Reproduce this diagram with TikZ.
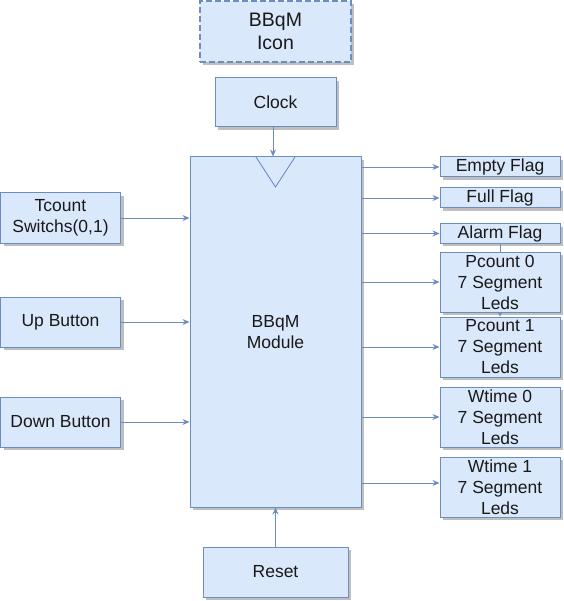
\documentclass[tikz,border=0pt]{standalone}
\usepackage{fontspec}
\setmainfont{Liberation Sans}
\usetikzlibrary{arrows.meta,shadows}
\definecolor{boxfill}{HTML}{DAE8FC}
\definecolor{boxline}{HTML}{6C8EBF}
\begin{document}
\begin{tikzpicture}[x=1pt,y=-1pt,
  box/.style={draw=boxline,fill=boxfill,line width=1pt,inner sep=0pt,align=center,
    font=\fontsize{17.5}{21}\selectfont,text=black!90,
    drop shadow={shadow xshift=3pt,shadow yshift=-3pt,fill=black!25,opacity=1}},
  arr/.style={draw=boxline,line width=0.9pt,-{Stealth[length=7pt,width=6pt]}},
  plain/.style={draw=boxline,line width=0.9pt}]
\useasboundingbox (0,0) rectangle (563,601);
\node[box,minimum width=151pt,minimum height=61pt,dash pattern=on 6pt off 3pt,line width=1.5pt,font=\fontsize{19.5}{23}\selectfont] (icon) at (275.5,31.5) {BBqM\\Icon};
\node[box,minimum width=121pt,minimum height=49pt] (clock) at (275.5,102.5) {Clock};
\node[box,minimum width=171pt,minimum height=350pt] (module) at (275.5,332) {BBqM\\Module};
\node[box,minimum width=120pt,minimum height=20pt] (empty) at (500,167) {Empty Flag};
\node[box,minimum width=120pt,minimum height=20pt] (full) at (500,198) {Full Flag};
\node[box,minimum width=120pt,minimum height=19pt] (alarm) at (500,233.5) {Alarm Flag};
\node[box,minimum width=120pt,minimum height=60pt] (pc0) at (500,282) {Pcount 0\\7 Segment\\Leds};
\node[box,minimum width=120pt,minimum height=60pt] (pc1) at (500,347) {Pcount 1\\7 Segment\\Leds};
\node[box,minimum width=120pt,minimum height=60pt] (wt0) at (500,417) {Wtime 0\\7 Segment\\Leds};
\node[box,minimum width=120pt,minimum height=60pt] (wt1) at (500,487) {Wtime 1\\7 Segment\\Leds};
\node[box,minimum width=120pt,minimum height=50pt] (tcount) at (60.5,218) {Tcount\\Switchs(0,1)};
\node[box,minimum width=120pt,minimum height=50pt] (up) at (60.5,322) {Up Button};
\node[box,minimum width=120pt,minimum height=50pt] (down) at (60.5,422) {Down Button};
\node[box,minimum width=145pt,minimum height=50pt] (reset) at (275.5,572) {Reset};
\coordinate (wt1in) at ([yshift=4pt]wt1.west);
\coordinate (clkout) at ([xshift=-2.5pt]clock.south);
% clock triangle
\draw[plain] (256,157) -- (275.5,187) -- (295,157);
% connectors
\draw[arr] (clkout) -- (module.north -| clkout);
\draw[arr] (reset.north) -- (module.south);
\draw[arr] (tcount.east) -- (module.west |- tcount.east);
\draw[arr] (up.east) -- (module.west |- up.east);
\draw[arr] (down.east) -- (module.west |- down.east);
\draw[arr] (module.east |- empty.west) -- (empty.west);
\draw[arr] (module.east |- full.west) -- (full.west);
\draw[arr] (module.east |- alarm.west) -- (alarm.west);
\draw[arr] (module.east |- pc0.west) -- (pc0.west);
\draw[arr] (module.east |- pc1.west) -- (pc1.west);
\draw[arr] (module.east |- wt0.west) -- (wt0.west);
\draw[arr] (module.east |- wt1in) -- (wt1in);
\draw[plain] (alarm.south) -- (pc0.north);
\draw[draw=boxline,line width=0.9pt,-{Stealth[length=4pt,width=4pt]}] (pc0.south) -- (pc1.north);
\end{tikzpicture}
\end{document}
